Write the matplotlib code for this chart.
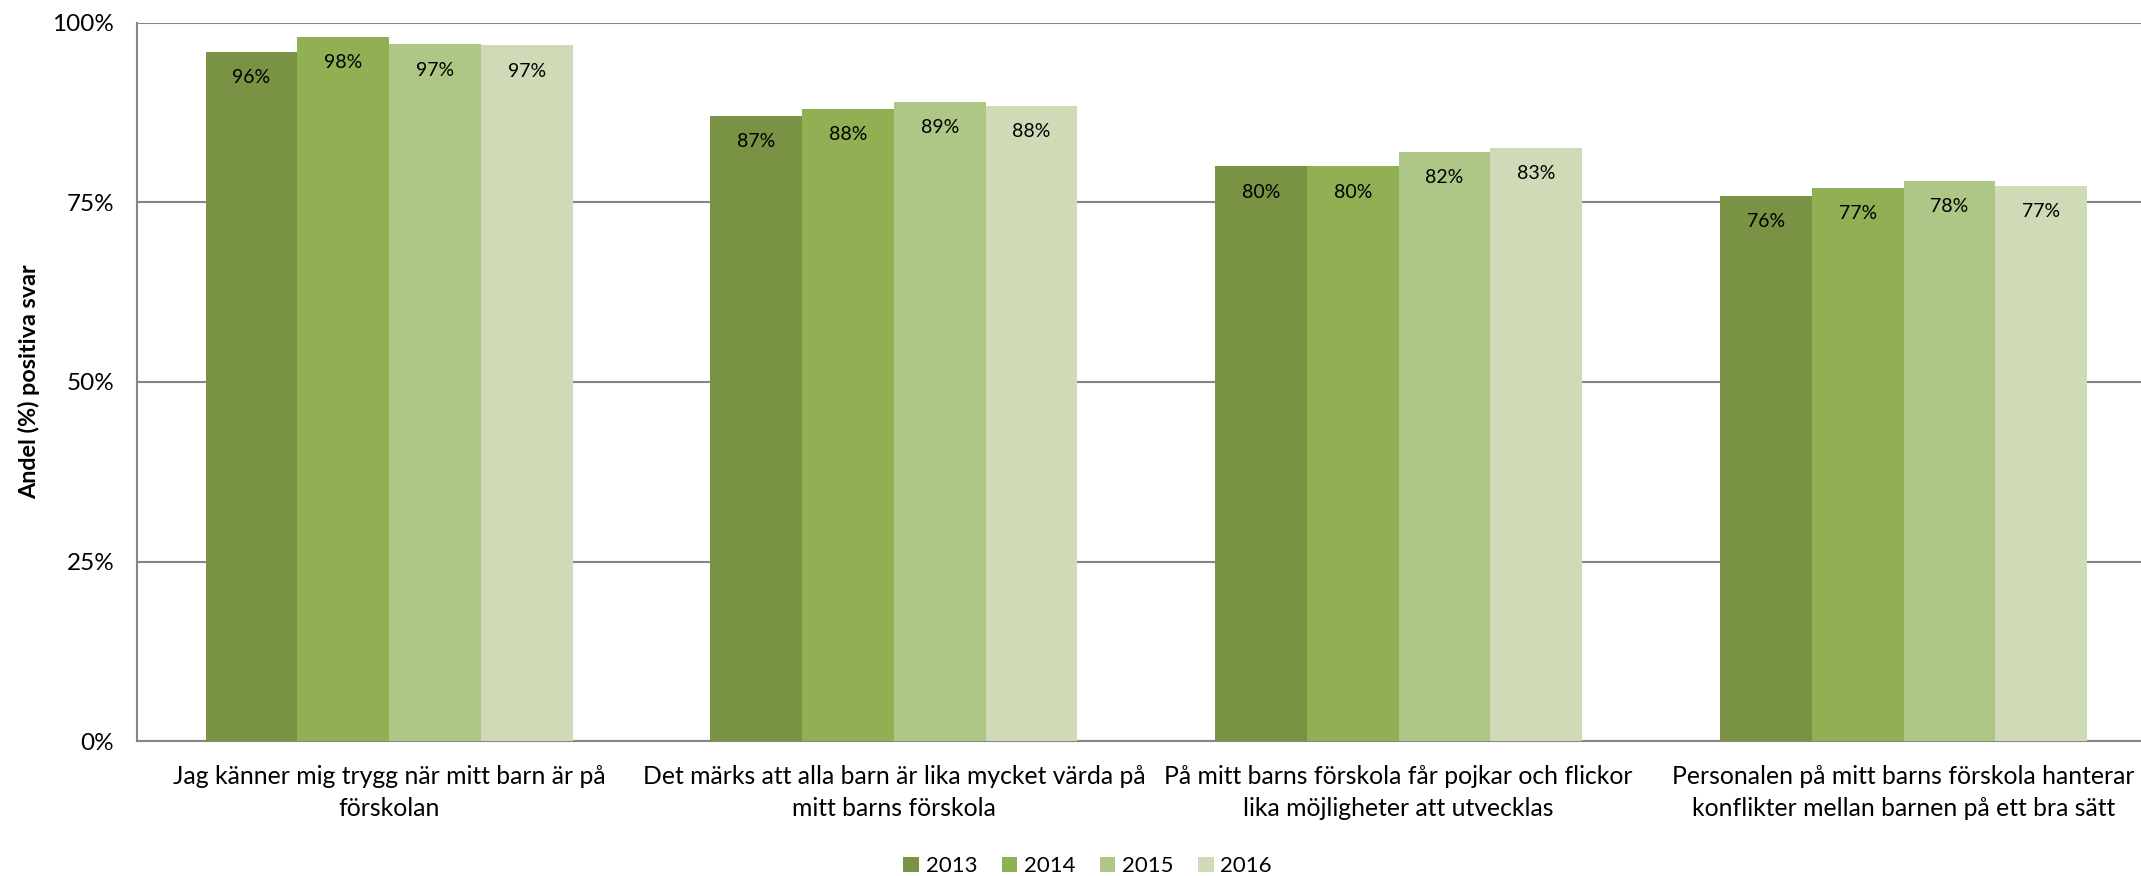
import matplotlib
matplotlib.use("Agg")
import matplotlib.pyplot as plt
import numpy as np
from matplotlib.patches import Patch

categories = [
    "Jag känner mig trygg när mitt barn är på\nförskolan",
    "Det märks att alla barn är lika mycket värda på\nmitt barns förskola",
    "På mitt barns förskola får pojkar och flickor\nlika möjligheter att utvecklas",
    "Personalen på mitt barns förskola hanterar\nkonflikter mellan barnen på ett bra sätt",
]
years = ["2013", "2014", "2015", "2016"]
values_2013 = [96.0, 87.0, 80.0, 75.9]
values_2014 = [98.0, 88.0, 80.0, 77.0]
values_2015 = [97.0, 89.0, 82.0, 78.0]
values_2016 = [96.85, 88.4, 82.6, 77.3]
yticks = [0, 25, 50, 75, 100]
ytick_labels = ["0%", "25%", "50%", "75%", "100%"]

colors = ["#7A9244", "#91B054", "#AEC686", "#CEDBB6"]
series = [values_2013, values_2014, values_2015, values_2016]

plt.rcParams["font.family"] = ["Lato", "DejaVu Sans"]

fig = plt.figure(figsize=(21.41, 8.76), dpi=100)
ax = fig.add_axes([0.0638, 0.154, 0.9432, 0.820])

x = np.arange(len(categories))
w = 0.727 / 4
for i, (vals, col, yr) in enumerate(zip(series, colors, years)):
    pos = x + (i - 1.5) * w
    ax.bar(pos, vals, width=w, color=col, label=yr, zorder=3)
    for px, v in zip(pos, vals):
        ax.annotate(f"{round(v)}%", (px, v), xytext=(0, -18.5), textcoords="offset points",
                    ha="center", va="center", fontsize=14, color="black", zorder=4)

ax.set_xlim(-0.5, len(categories) - 0.5)
ax.set_ylim(0, 100)
ax.set_yticks(yticks)
ax.set_yticklabels(ytick_labels)
ax.set_xticks(x)
ax.set_xticklabels(categories, linespacing=1.5)
ax.tick_params(axis="y", length=0, pad=16, labelsize=17.5)
ax.tick_params(axis="x", length=0, pad=17, labelsize=17.8)
ax.yaxis.grid(True, color="#868686", linewidth=1.5, zorder=0)
ax.set_axisbelow(True)
for s in ["top", "right"]:
    ax.spines[s].set_visible(False)
for s in ["left", "bottom"]:
    ax.spines[s].set_color("#868686")
    ax.spines[s].set_linewidth(1.5)
ax.set_ylabel("Andel (%) positiva svar", fontsize=16.8, fontweight="bold", labelpad=9)

handles = [Patch(facecolor=c, label=y) for c, y in zip(colors, years)]
fig.legend(handles=handles, loc="center", bbox_to_anchor=(0.508, 0.011), ncol=4,
           frameon=False, fontsize=16, handlelength=0.7, handleheight=0.7,
           handletextpad=0.3, columnspacing=1.1, borderaxespad=0)

fig.savefig("out.png", dpi=100)
